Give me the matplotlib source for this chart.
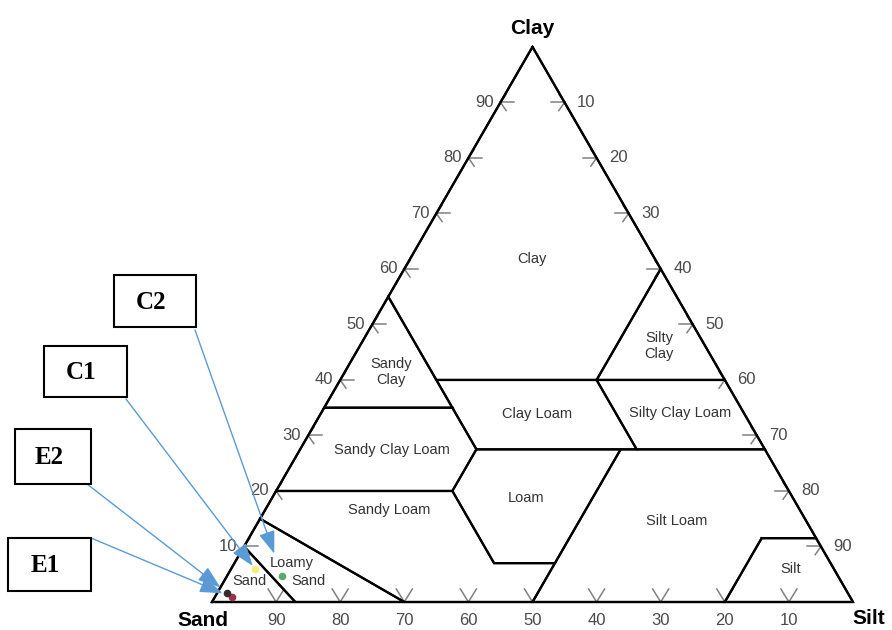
import numpy as np
import matplotlib.pyplot as plt
from matplotlib.patches import Rectangle

plt.rcParams["font.family"] = ["Liberation Sans", "DejaVu Sans"]

W, HGT = 892, 630
PX = 6.41            # pixels per percent along a triangle side
ORIGIN = (212, 602)  # pixel position of the Sand corner
H = np.sqrt(3) / 2

# texture class outlines as (clay, silt) pairs, sand = 100 - clay - silt
clay_cls = [(100, 0), (60, 40), (40, 40), (40, 15), (55, 0)]
silty_clay = [(60, 40), (40, 60), (40, 40)]
sandy_clay = [(55, 0), (35, 0), (35, 20)]
silty_clay_loam = [(40, 60), (27.5, 72.5), (27.5, 52.5), (40, 40)]
clay_loam = [(40, 40), (27.5, 52.5), (27.5, 27.5), (40, 15)]
sandy_clay_loam = [(35, 20), (27.5, 27.5), (20, 27.5), (20, 0), (35, 0)]
loam = [(27.5, 27.5), (27.5, 50), (7, 50), (7, 40.5), (20, 27.5)]
silt_loam = [(27.5, 50), (27.5, 72.5), (11.5, 88.5), (11.5, 80), (0, 80), (0, 50), (7, 50)]
silt_cls = [(11.5, 80), (11.5, 88.5), (0, 100), (0, 80)]
sandy_loam = [(20, 0), (20, 27.5), (7, 40.5), (7, 50), (0, 50), (0, 30), (15, 0)]
loamy_sand = [(15, 0), (0, 30), (0, 13), (10, 0)]
sand_cls = [(10, 0), (0, 13), (0, 0)]

regions = [clay_cls, silty_clay, sandy_clay, silty_clay_loam, clay_loam,
           sandy_clay_loam, loam, silt_loam, silt_cls, sandy_loam,
           loamy_sand, sand_cls]

class_names = ["Clay", "Sandy\nClay", "Silty\nClay", "Clay Loam", "Silty Clay Loam",
               "Sandy Clay Loam", "Loam", "Silt Loam", "Sandy Loam", "Silt",
               "Loamy", "Sand", "Sand"]
class_label_px = [(532, 259), (391, 372), (659, 346), (537, 414), (680, 413),
                  (392, 450), (526, 498), (677, 521), (389, 510), (791, 569),
                  (292, 563), (308, 581), (249, 581)]

tick_vals = [10, 20, 30, 40, 50, 60, 70, 80, 90]

# samples (percent)
samples = ["E1", "E2", "C1", "C2"]
sand_pct = [96.5, 96.8, 90.3, 86.7]
silt_pct = [2.6, 1.5, 3.8, 8.6]
clay_pct = [0.9, 1.7, 5.9, 4.7]
sample_colors = ["#9b2f4c", "#3a2a2c", "#f3ef78", "#5da96c"]

# label boxes in pixels: left, top, right, bottom ; arrow start point
box_px = [(8, 538, 91, 591), (15, 429, 91, 484), (44, 346, 127, 397), (114, 275, 196, 327)]
arrow_start_px = [(91, 538), (87, 484), (126, 399), (195, 330)]
arrow_shrink = [7, 6, 3, 17]


def tern(clay, silt):
    return silt + clay / 2, clay * H


def ff(x, y):
    return x / W, 1 - y / HGT


fig = plt.figure(figsize=(W / 100, HGT / 100), dpi=100)
ax = fig.add_axes([0, 0, 1, 1])
ax.set_xlim(-ORIGIN[0] / PX, (W - ORIGIN[0]) / PX)
ax.set_ylim(-(HGT - ORIGIN[1]) / PX, ORIGIN[1] / PX)
ax.axis("off")

# class outlines
for poly in regions:
    pts = [tern(c, s) for c, s in poly] + [tern(*poly[0])]
    xs, ys = zip(*pts)
    ax.plot(xs, ys, color="black", lw=1.6, solid_joinstyle="miter", zorder=2)

# outer triangle
xs, ys = zip(*[tern(0, 0), tern(0, 100), tern(100, 0), tern(0, 0)])
ax.plot(xs, ys, color="black", lw=1.6, zorder=2)

for name, (x, y) in zip(class_names, class_label_px):
    fig.text(*ff(x, y), name, ha="center", va="center", fontsize=10.5,
             color="#333333", linespacing=1.25)

# axis ticks (small arrows) and numbers
tc = "#808080"
shaft, barb = 14 / PX, 10 / PX
a = np.radians(55)
for v in tick_vals:
    # clay, left side
    x0, y0 = tern(v, 0)
    ax.plot([x0, x0 + shaft], [y0, y0], color=tc, lw=1.1, zorder=1)
    for sgn in (1, -1):
        ax.plot([x0, x0 + barb * np.cos(a)], [y0, y0 + sgn * barb * np.sin(a)], color=tc, lw=1.1, zorder=1)
    ax.annotate(str(v), (x0, y0), xytext=(-5, 0), textcoords="offset points",
                ha="right", va="center", fontsize=12, color="#4a4a4a")

    # silt, right side
    x0, y0 = tern(100 - v, v)
    ax.plot([x0, x0 - shaft], [y0, y0], color=tc, lw=1.1, zorder=1)
    for sgn in (1, -1):
        ax.plot([x0, x0 - barb * np.cos(a)], [y0, y0 + sgn * barb * np.sin(a)], color=tc, lw=1.1, zorder=1)
    ax.annotate(str(v), (x0, y0), xytext=(9, 0), textcoords="offset points",
                ha="left", va="center", fontsize=12, color="#4a4a4a")

    # sand, bottom
    x0, y0 = tern(0, 100 - v)
    ax.plot([x0 - 8 / PX, x0, x0 + 8 / PX], [13 / PX, 0, 13 / PX], color=tc, lw=1.1, zorder=1)
    ax.annotate(str(v), (x0, y0), xytext=(0, -13), textcoords="offset points",
                ha="center", va="center", fontsize=12, color="#4a4a4a")

fig.text(*ff(532, 28), "Clay", ha="center", va="center", fontsize=15, fontweight="bold")
fig.text(*ff(203, 620), "Sand", ha="center", va="center", fontsize=15, fontweight="bold")
fig.text(*ff(869, 618), "Silt", ha="center", va="center", fontsize=15, fontweight="bold")

# sample points
for i in range(len(samples)):
    x, y = tern(clay_pct[i], silt_pct[i])
    ax.plot(x, y, "o", ms=5.5, color=sample_colors[i], mec="none", zorder=3)

# labelled boxes with arrows
for i, name in enumerate(samples):
    l, t, r, b = box_px[i]
    ax.add_patch(Rectangle(ff(l, b), (r - l) / W, (b - t) / HGT, transform=fig.transFigure,
                           facecolor="white", edgecolor="black", lw=1.5, zorder=5))
    fig.text(*ff((l + r) / 2 - 4, (t + b) / 2 + 1), name, ha="center", va="center",
             fontsize=18, fontweight="bold", family="Liberation Serif", zorder=6)
    x, y = tern(clay_pct[i], silt_pct[i])
    ax.annotate("", xy=(x, y), xycoords="data", xytext=ff(*arrow_start_px[i]),
                textcoords="figure fraction",
                arrowprops=dict(arrowstyle="-|>,head_length=1.4,head_width=0.5",
                                color="#5b9bd5", lw=1, shrinkA=0, shrinkB=arrow_shrink[i],
                                mutation_scale=10),
                zorder=4)

fig.savefig("out.png", dpi=100)
